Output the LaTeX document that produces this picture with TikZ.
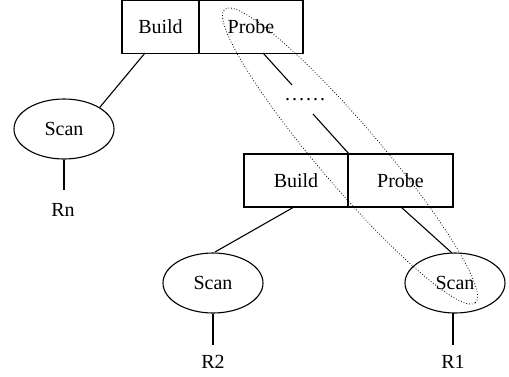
\documentclass[tikz,border=0pt]{standalone}
\usepackage{fontspec}
\setmainfont{Liberation Serif}
\usetikzlibrary{shapes.geometric}
\begin{document}
\begin{tikzpicture}[x=1pt,y=-1pt,
  cell/.style={draw,line width=1.1pt,minimum height=53pt,inner sep=0pt,font=\fontsize{20}{24}\selectfont},
  scanel/.style={draw,ellipse,line width=1.1pt,minimum width=100pt,minimum height=60pt,inner sep=0pt,font=\fontsize{20}{24}\selectfont},
  lbl/.style={font=\fontsize{20}{24}\selectfont,inner sep=0pt},
  edge/.style={line width=1.1pt}]
\useasboundingbox (0,0) rectangle (509,376);
% top join
\node[cell,minimum width=77pt] (b1) at (160.5,27) {Build};
\node[cell,minimum width=104pt] (p1) at (251,27) {Probe};
% bottom join
\node[cell,minimum width=104pt] (b2) at (296,180.5) {Build};
\node[cell,minimum width=105pt] (p2) at (400.5,180.5) {Probe};
% scans
\node[scanel] (sn) at (64,129) {Scan};
\node[scanel] (s2) at (213,283) {Scan};
\node[scanel] (s1) at (455,283) {Scan};
\node[lbl] (rn) at (63,210) {Rn};
\node[lbl] (r2) at (213,362) {R2};
\node[lbl] (r1) at (453,362) {R1};
\coordinate (q1) at (292,85);
\coordinate (q2) at (313,114);
\node[lbl] (dots) at (305,100) {.\kern2pt.\kern2pt.\kern2pt.\kern2pt.\kern2pt.};
% edges
\draw[edge] (145,53) -- (sn.north east);
\draw[edge] (sn.south) -- (64,190);
\draw[edge] (263,53) -- (q1);
\draw[edge] (q2) -- (b2.north east);
\draw[edge] (294,207) -- (215,252);
\draw[edge] (s2.south) -- (213,345);
\draw[edge] (401,207) -- (452,253);
\draw[edge] (453,313) -- (453,345);
% dotted ellipse
\draw[dotted,line width=0.8pt,rotate around={-49.5:(350,156)}] (350,156) ellipse [x radius=193pt,y radius=31pt];
\end{tikzpicture}
\end{document}
